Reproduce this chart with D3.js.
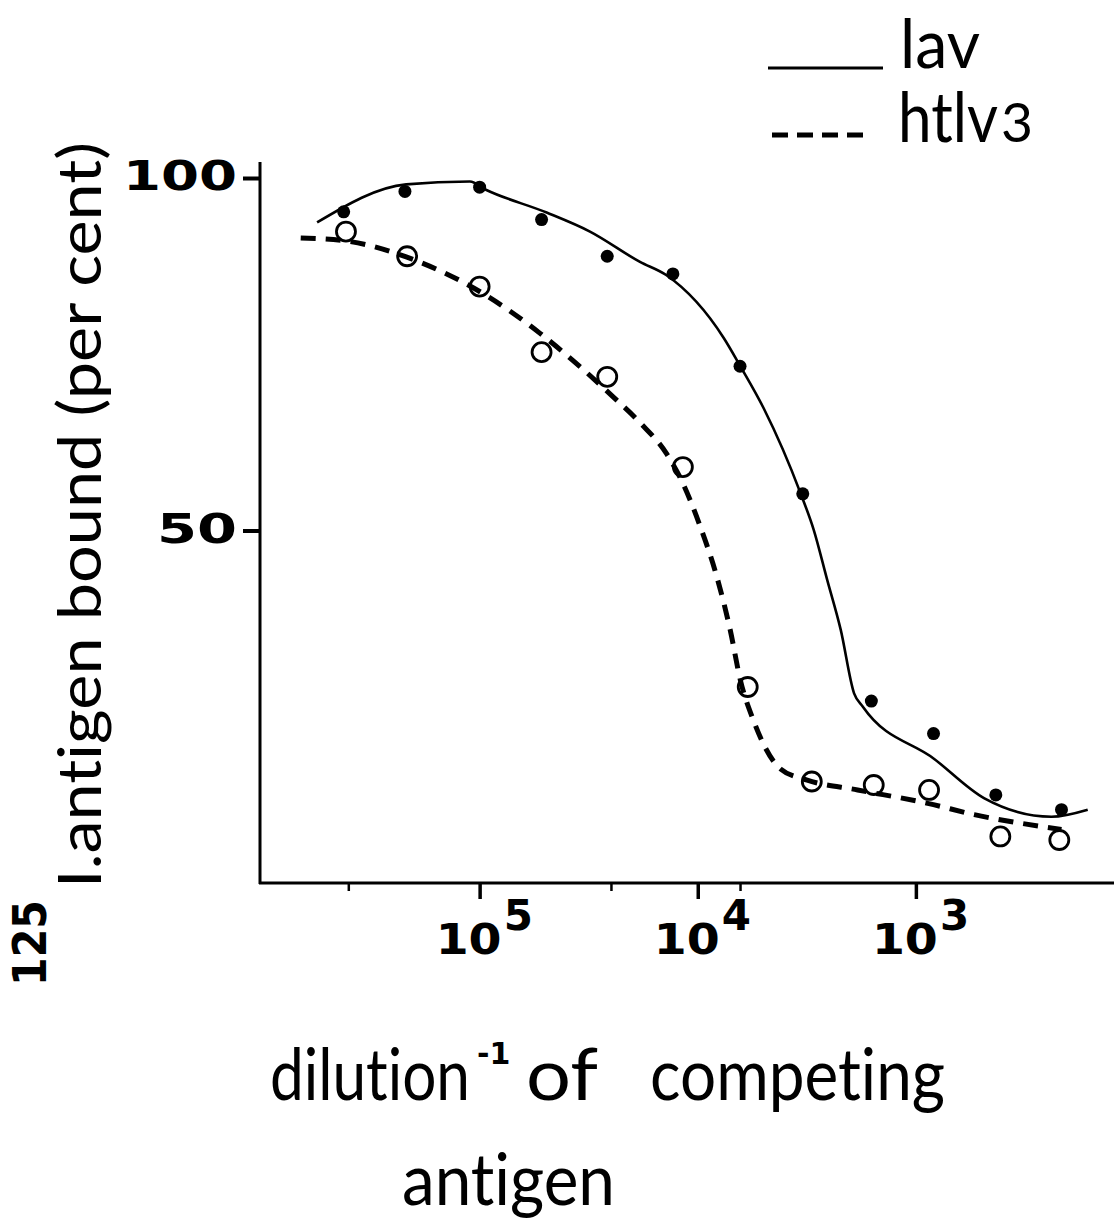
<!DOCTYPE html>
<html>
<head>
<meta charset="utf-8">
<script src="https://cdn.jsdelivr.net/npm/d3@7"></script>
<style>
  body { margin: 0; background: #fff; }
  svg { display: block; }
  .lbl { font-family: Lato, "Open Sans", sans-serif; fill: #000; font-variant-ligatures: none; }
  .num { font-family: "DejaVu Sans", sans-serif; font-weight: bold; fill: #000; }
</style>
</head>
<body>
<svg id="chart" width="1114" height="1231"></svg>
<script>
// measured points (dilution^-1, % bound)
const lavDilution = [4.2e5, 2.2e5, 1.0e5, 5.2e4, 2.6e4, 1.3e4, 6.4e3, 3.3e3, 1.6e3, 830, 430, 215],
	lavBound = [95.2, 98.1, 98.7, 94.1, 88.9, 86.4, 73.3, 55.2, 25.8, 21.2, 12.5, 10.4];

const htlvDilution = [4.1e5, 2.15e5, 1.0e5, 5.2e4, 2.6e4, 1.17e4, 5.9e3, 3.0e3, 1.56e3, 870, 410, 220],
	htlvBound = [92.4, 88.9, 84.6, 75.3, 71.8, 59.0, 27.8, 14.4, 13.9, 13.2, 6.6, 6.1];

// hand drawn curves
const lavCurveX = [5.56e5, 2.17e5, 1.11e5, 9.31e4, 4.93e4, 3.12e4, 1.84e4, 1.39e4, 7.6e3, 6.38e3, 4.98e3,
		3.38e3, 2.94e3, 2.55e3, 2.21e3, 1.92e3, 1.75e3, 824, 485, 239, 163],
	lavCurveY = [93.7, 99.1, 99.5, 98.3, 95.1, 92.4, 88.1, 86.2, 77.3, 73.3, 67.3,
		55.3, 50.1, 43.0, 35.9, 26.9, 25.0, 17.6, 12.0, 9.4, 10.4];

const htlvCurveX = [6.61e5, 3.96e5, 2.17e5, 1.0e5, 5.3e4, 3.73e4, 2.45e4, 1.84e4, 1.39e4, 1.17e4, 9.75e3,
		8.17e3, 7.1e3, 6.38e3, 5.56e3, 4.18e3, 3.15e3, 1.85e3, 883, 540, 215],
	htlvCurveY = [91.5, 91.0, 88.8, 83.9, 78.0, 74.1, 69.0, 65.3, 60.9, 56.7, 50.6,
		43.4, 35.9, 28.8, 23.1, 16.2, 14.6, 13.2, 11.3, 9.7, 7.6];

const xMajorTicks = [1e5, 1e4, 1e3],
	xMajorExp = ['5', '4', '3'],
	xMinorTicks = [4e5, 2.5e4, 6.4e3],
	yTicks = [50, 100];

const svg = d3.select('#chart');

const x = d3.scaleLog().domain([1e6, 1e2]).range([261.5, 1134]),
	y = d3.scaleLinear().domain([0, 100]).range([883, 178]);

// axes lines
svg.append('line')
	.attr('x1', 260).attr('x2', 260).attr('y1', 162).attr('y2', 884)
	.attr('stroke', '#000').attr('stroke-width', 3);
svg.append('line')
	.attr('x1', 259).attr('x2', 1114).attr('y1', y(0)).attr('y2', y(0))
	.attr('stroke', '#000').attr('stroke-width', 3);

// ticks through d3 axes
const yAxis = svg.append('g')
	.attr('transform', 'translate(260,0)')
	.call(d3.axisLeft(y).tickValues(yTicks).tickSize(17).tickFormat(''));
yAxis.select('.domain').remove();
yAxis.selectAll('line').attr('stroke', '#000').attr('stroke-width', 4);

const xAxis = svg.append('g')
	.attr('transform', `translate(0,${y(0)})`)
	.call(d3.axisBottom(x).tickValues(xMajorTicks).tickSize(16).tickFormat(''));
xAxis.select('.domain').remove();
xAxis.selectAll('line').attr('stroke', '#000').attr('stroke-width', 3.5);

const xMinor = svg.append('g')
	.attr('transform', `translate(0,${y(0)})`)
	.call(d3.axisBottom(x).tickValues(xMinorTicks).tickSize(8).tickFormat(''));
xMinor.select('.domain').remove();
xMinor.selectAll('line').attr('stroke', '#000').attr('stroke-width', 2.5);

// tick labels
svg.selectAll('.ylab').data(yTicks).join('text')
	.attr('class', 'num')
	.attr('x', 237)
	.attr('y', d => y(d) + 12)
	.attr('text-anchor', 'end')
	.attr('font-size', 41)
	.attr('textLength', d => d === 100 ? 114 : 80)
	.attr('lengthAdjust', 'spacingAndGlyphs')
	.text(d => d);

const xl = svg.selectAll('.xlab').data(xMajorTicks).join('text')
	.attr('class', 'num')
	.attr('font-size', 42)
	.attr('y', 954);
xl.append('tspan')
	.attr('x', d => x(d) - 44)
	.attr('textLength', 66)
	.attr('lengthAdjust', 'spacingAndGlyphs')
	.text('10');
xl.append('tspan')
	.attr('x', d => x(d) + 24)
	.attr('dy', -24)
	.text((d, i) => xMajorExp[i]);

// curves
const line = d3.line()
	.x(d => x(d[0]))
	.y(d => y(d[1]))
	.curve(d3.curveMonotoneX);

svg.append('path')
	.datum(d3.zip(lavCurveX, lavCurveY))
	.attr('d', line)
	.attr('fill', 'none')
	.attr('stroke', '#000')
	.attr('stroke-width', 2.6);

svg.append('path')
	.datum(d3.zip(htlvCurveX, htlvCurveY))
	.attr('d', line)
	.attr('fill', 'none')
	.attr('stroke', '#000')
	.attr('stroke-width', 5)
	.attr('stroke-dasharray', '15,10');

// points
svg.selectAll('.lav').data(d3.zip(lavDilution, lavBound)).join('circle')
	.attr('cx', d => x(d[0]))
	.attr('cy', d => y(d[1]))
	.attr('r', 6.5)
	.attr('fill', '#000');

svg.selectAll('.htlv').data(d3.zip(htlvDilution, htlvBound)).join('circle')
	.attr('cx', d => x(d[0]))
	.attr('cy', d => y(d[1]))
	.attr('r', 9.5)
	.attr('fill', 'none')
	.attr('stroke', '#000')
	.attr('stroke-width', 2.8);

// legend
svg.append('line')
	.attr('x1', 768).attr('x2', 883).attr('y1', 68).attr('y2', 68)
	.attr('stroke', '#000').attr('stroke-width', 3);
svg.append('text')
	.attr('class', 'lbl')
	.attr('x', 900).attr('y', 68)
	.attr('font-size', 68)
	.attr('textLength', 80)
	.attr('lengthAdjust', 'spacingAndGlyphs')
	.text('lav');

svg.append('line')
	.attr('x1', 772).attr('x2', 865).attr('y1', 135).attr('y2', 135)
	.attr('stroke', '#000').attr('stroke-width', 5)
	.attr('stroke-dasharray', '16,9');
const ht = svg.append('text')
	.attr('class', 'lbl')
	.attr('x', 898).attr('y', 142)
	.attr('font-size', 70);
ht.append('tspan').attr('textLength', 100).attr('lengthAdjust', 'spacingAndGlyphs').text('htlv');
ht.append('tspan').attr('x', 1001).attr('font-size', 54).attr('textLength', 32)
	.attr('lengthAdjust', 'spacingAndGlyphs').text('3');

// y title
const yt = svg.append('g').attr('transform', 'translate(101,888) rotate(-90)');
yt.append('text')
	.attr('class', 'lbl')
	.attr('x', 0).attr('y', 0)
	.attr('font-size', 60)
	.attr('textLength', 746)
	.attr('lengthAdjust', 'spacingAndGlyphs')
	.text('I.antigen bound (per cent)');
svg.append('text')
	.attr('class', 'num')
	.attr('transform', 'translate(46,986) rotate(-90)')
	.attr('font-size', 46)
	.attr('textLength', 86)
	.attr('lengthAdjust', 'spacingAndGlyphs')
	.text('125');

// x title
const xt = svg.append('text')
	.attr('class', 'lbl')
	.attr('y', 1100)
	.attr('font-size', 72);
xt.append('tspan').attr('x', 270).attr('textLength', 200).attr('lengthAdjust', 'spacingAndGlyphs').text('dilution');
xt.append('tspan').attr('class', 'num').attr('x', 477).attr('dy', -36).attr('font-size', 30).text('-1');
xt.append('tspan').attr('x', 526).attr('dy', 36).attr('textLength', 72).attr('lengthAdjust', 'spacingAndGlyphs').text('of');
xt.append('tspan').attr('x', 650).attr('textLength', 295).attr('lengthAdjust', 'spacingAndGlyphs').text('competing');

svg.append('text')
	.attr('class', 'lbl')
	.attr('x', 402).attr('y', 1205)
	.attr('font-size', 72)
	.attr('textLength', 213)
	.attr('lengthAdjust', 'spacingAndGlyphs')
	.text('antigen');
</script>
</body>
</html>
